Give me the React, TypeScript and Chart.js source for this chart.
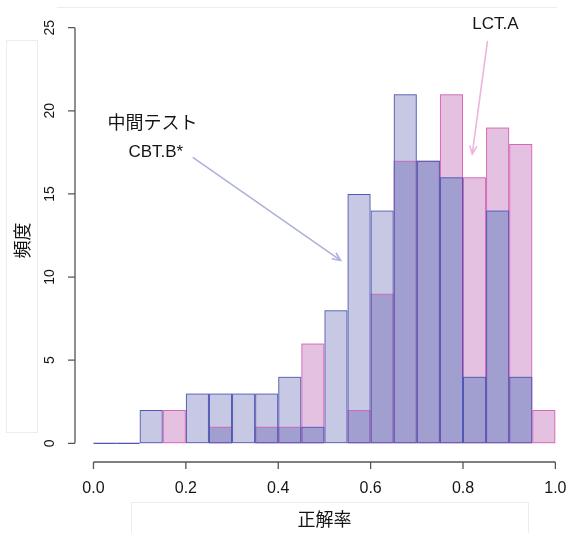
import { useEffect, useRef } from "react";
import { Chart, registerables } from "chart.js";
Chart.register(...registerables);

// Histogram bin edges (正解率)
const binEdges = [0.0, 0.05, 0.1, 0.15, 0.2, 0.25, 0.3, 0.35, 0.4, 0.45, 0.5, 0.55, 0.6, 0.65, 0.7, 0.75, 0.8, 0.85, 0.9, 0.95, 1.0];
// 中間テスト CBT.B* (blue)
const cbtB = [0, 0, 2, 0, 3, 3, 3, 3, 4, 1, 8, 15, 14, 21, 17, 16, 4, 14, 4, 0];
// LCT.A (pink)
const lctA = [0, 0, 0, 2, 0, 1, 0, 1, 1, 6, 0, 2, 9, 17, 17, 21, 16, 19, 18, 2];
const xTicks = [0, 0.2, 0.4, 0.6, 0.8, 1.0];
const xTickLabels = ["0.0", "0.2", "0.4", "0.6", "0.8", "1.0"];
const yTicks = [0, 5, 10, 15, 20, 25];
const yTickLabels = ["0", "5", "10", "15", "20", "25"];
const xTitle = "正解率";
const yTitle = "頻度";
const labelB1 = "中間テスト";
const labelB2 = "CBT.B*";
const labelA = "LCT.A";

const BLUE_FILL = "#c6c8e4";
const PINK_FILL = "#e4c1e0";
const OVER_FILL = "#a19fcf";
const BLUE_LINE = "#5058b4";
const PINK_LINE = "#d865b6";
const TEXT = "#151515";
const FONT = "'Liberation Sans', 'Noto Sans CJK JP', sans-serif";

const centers = binEdges.slice(0, -1).map((e, i) => (e + binEdges[i + 1]) / 2);
const overlap = cbtB.map((b, i) => Math.min(b, lctA[i]));
const pts = (arr: number[]) => arr.map((v, i) => ({ x: centers[i], y: v }));

function arrow(ctx: CanvasRenderingContext2D, x1: number, y1: number, x2: number, y2: number, color: string) {
  const ang = Math.atan2(y2 - y1, x2 - x1);
  const h = 9;
  const a = 0.42;
  ctx.save();
  ctx.strokeStyle = color;
  ctx.lineWidth = 1.6;
  ctx.beginPath();
  ctx.moveTo(x1, y1);
  ctx.lineTo(x2, y2);
  ctx.moveTo(x2 - h * Math.cos(ang - a), y2 - h * Math.sin(ang - a));
  ctx.lineTo(x2, y2);
  ctx.lineTo(x2 - h * Math.cos(ang + a), y2 - h * Math.sin(ang + a));
  ctx.stroke();
  ctx.restore();
}

const rPlot = {
  id: "rPlot",
  beforeDatasetsDraw(chart: any) {
    const { ctx } = chart;
    const xs = chart.scales.x;
    const ys = chart.scales.y;
    // zero-height bins drawn as a flat line at the base
    ctx.save();
    ctx.strokeStyle = BLUE_LINE;
    ctx.lineWidth = 1.3;
    const y0 = ys.getPixelForValue(0);
    cbtB.forEach((b, i) => {
      if (b === 0 && lctA[i] === 0) {
        ctx.beginPath();
        ctx.moveTo(xs.getPixelForValue(binEdges[i]), y0);
        ctx.lineTo(xs.getPixelForValue(binEdges[i + 1]), y0);
        ctx.stroke();
      }
    });
    ctx.restore();
  },
  afterDraw(chart: any) {
    const { ctx, chartArea } = chart;
    const xs = chart.scales.x;
    const ys = chart.scales.y;
    ctx.save();
    // faint frame artifacts
    ctx.strokeStyle = "#ededed";
    ctx.lineWidth = 1;
    ctx.strokeRect(6.5, 40.5, 31, 392);
    ctx.beginPath();
    ctx.moveTo(57, 7.5); ctx.lineTo(557, 7.5);
    ctx.moveTo(131.5, 533); ctx.lineTo(131.5, 502.5); ctx.lineTo(528.5, 502.5); ctx.lineTo(528.5, 533);
    ctx.stroke();

    // y axis
    const ax = chartArea.left;
    ctx.strokeStyle = "#555";
    ctx.lineWidth = 1.3;
    ctx.beginPath();
    ctx.moveTo(ax, ys.getPixelForValue(yTicks[0]));
    ctx.lineTo(ax, ys.getPixelForValue(yTicks[yTicks.length - 1]));
    yTicks.forEach((t) => {
      const py = ys.getPixelForValue(t);
      ctx.moveTo(ax, py);
      ctx.lineTo(ax - 7, py);
    });
    ctx.stroke();
    ctx.fillStyle = TEXT;
    ctx.font = `14px ${FONT}`;
    ctx.textAlign = "center";
    ctx.textBaseline = "middle";
    yTicks.forEach((t, i) => {
      const py = ys.getPixelForValue(t);
      ctx.save();
      ctx.translate(ax - 25, py);
      ctx.rotate(-Math.PI / 2);
      ctx.fillText(yTickLabels[i], 0, 0);
      ctx.restore();
    });

    // x axis
    const ay = chartArea.bottom + 2;
    ctx.beginPath();
    ctx.moveTo(xs.getPixelForValue(xTicks[0]), ay);
    ctx.lineTo(xs.getPixelForValue(xTicks[xTicks.length - 1]), ay);
    xTicks.forEach((t) => {
      const px = xs.getPixelForValue(t);
      ctx.moveTo(px, ay);
      ctx.lineTo(px, ay + 7);
    });
    ctx.stroke();
    ctx.font = `16px ${FONT}`;
    xTicks.forEach((t, i) => {
      ctx.fillText(xTickLabels[i], xs.getPixelForValue(t), ay + 27);
    });

    // axis titles
    ctx.font = `18px ${FONT}`;
    ctx.fillText(xTitle, xs.getPixelForValue(0.5), ay + 59);
    ctx.save();
    ctx.translate(24, ys.getPixelForValue(12.2));
    ctx.rotate(-Math.PI / 2);
    ctx.fillText(yTitle, 0, 0);
    ctx.restore();

    // annotations
    ctx.font = `18px ${FONT}`;
    ctx.fillText(labelB1, xs.getPixelForValue(0.128), ys.getPixelForValue(19.2));
    ctx.font = `17px ${FONT}`;
    ctx.fillText(labelB2, xs.getPixelForValue(0.135), ys.getPixelForValue(17.5));
    ctx.fillText(labelA, xs.getPixelForValue(0.87), ys.getPixelForValue(25.2));
    arrow(ctx, xs.getPixelForValue(0.215), ys.getPixelForValue(17.2), xs.getPixelForValue(0.535), ys.getPixelForValue(11.0), "#aeb1dc");
    arrow(ctx, xs.getPixelForValue(0.853), ys.getPixelForValue(24.2), xs.getPixelForValue(0.82), ys.getPixelForValue(17.4), "#eeb4de");
    ctx.restore();
  },
};

export default function App() {
  const ref = useRef<HTMLCanvasElement | null>(null);
  useEffect(() => {
    if (!ref.current) return;
    const common = { barPercentage: 1, categoryPercentage: 1, grouped: false, borderSkipped: false, inflateAmount: 0 };
    // Chart.js paints the first dataset on top, so the outlines come first.
    const chart = new Chart(ref.current, {
      type: "bar",
      data: {
        datasets: [
          { ...common, label: "CBT.B", data: pts(cbtB), backgroundColor: "rgba(0,0,0,0)", borderColor: BLUE_LINE, borderWidth: 1 },
          { ...common, label: "LCT.A", data: pts(lctA), backgroundColor: "rgba(0,0,0,0)", borderColor: PINK_LINE, borderWidth: 1 },
          { ...common, label: "overlap", data: pts(overlap), backgroundColor: OVER_FILL, borderWidth: 0 },
          { ...common, label: "LCT.A fill", data: pts(lctA), backgroundColor: PINK_FILL, borderWidth: 0 },
          { ...common, label: "CBT.B fill", data: pts(cbtB), backgroundColor: BLUE_FILL, borderWidth: 0 },
        ] as any,
      },
      options: {
        animation: false,
        responsive: false,
        maintainAspectRatio: false,
        layout: { padding: { left: 75, right: 0, top: 11, bottom: 73 } },
        plugins: { legend: { display: false }, tooltip: { enabled: false } },
        scales: {
          x: { type: "linear", min: -0.04, max: 1.023, offset: false, display: false, grid: { offset: false } },
          y: { type: "linear", min: -1, max: 26, display: false },
        },
      },
      plugins: [rPlot],
    });
    return () => chart.destroy();
  }, []);
  return (
    <div style={{ position: "fixed", left: 0, top: 0, width: 566, height: 533, background: "#fff" }}>
      <canvas ref={ref} width={566} height={533} style={{ width: 566, height: 533 }} />
    </div>
  );
}
